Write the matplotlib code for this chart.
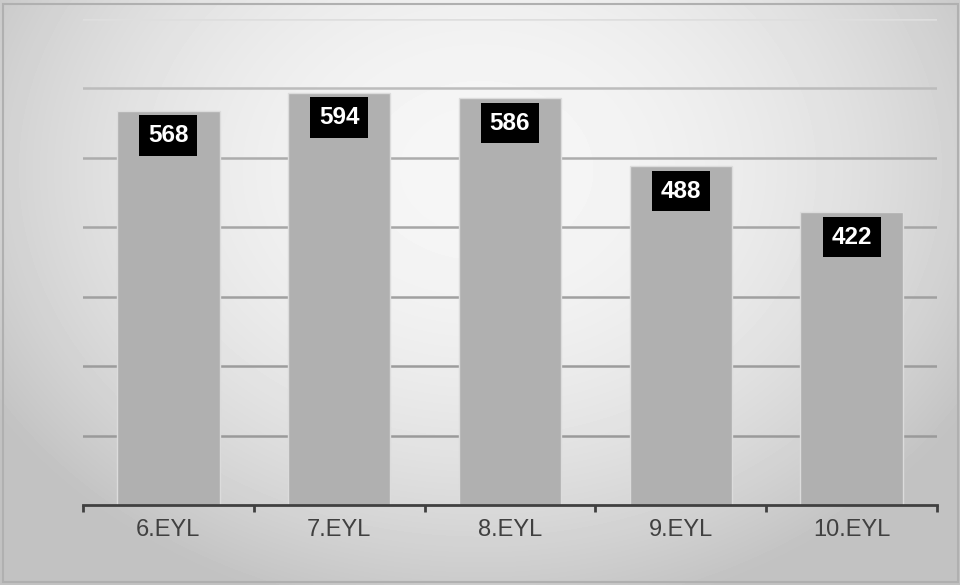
import numpy as np
import matplotlib
matplotlib.use("Agg")
import matplotlib.pyplot as plt
from matplotlib.patches import Rectangle

categories = ["6.EYL", "7.EYL", "8.EYL", "9.EYL", "10.EYL"]
values = [568, 594, 586, 488, 422]
grid_values = [100, 200, 300, 400, 500, 600, 700]

plt.rcParams['font.family'] = ['Liberation Sans', 'DejaVu Sans']

W, H = 960, 585
fig = plt.figure(figsize=(W / 100, H / 100), dpi=100)

# background radial gradient
bg = fig.add_axes([0, 0, 1, 1], zorder=-10)
yy, xx = np.mgrid[0:H, 0:W]
r2 = ((xx - 480) / 580.0) ** 2 + ((yy - 170) / 460.0) ** 2
v = np.clip(0.965 - 0.21 * r2, 0.76, 1.0)
bg.imshow(v, cmap="gray", vmin=0, vmax=1, extent=[0, W, H, 0], aspect="auto", interpolation="bilinear")
bg.add_patch(Rectangle((2.5, 3.5), W - 5, H - 6.5, fill=False, edgecolor="#b0b0b0", linewidth=1.5))
bg.set_xlim(0, W)
bg.set_ylim(H, 0)
bg.axis("off")

ax = fig.add_axes([83 / W, (H - 505) / H, (937 - 83) / W, (505 - 19) / H])
ax.patch.set_alpha(0)
x = np.arange(len(categories))
ax.bar(x, values, width=0.6, color="#b0b0b0", edgecolor="#dcdcdc", linewidth=1.0, zorder=2)
ax.set_xlim(-0.5, len(categories) - 0.5)
ax.set_ylim(0, 700)
ax.set_yticks(grid_values)
ax.yaxis.grid(True, linewidth=1.8, zorder=1)
grid_colors = ["#9a9a9a", "#9c9c9c", "#a0a0a0", "#a6a6a6", "#acacac", "#bcbcbc", "#dedede"]
for gl, c in zip(ax.get_ygridlines(), grid_colors):
    gl.set_color(c)
ax.set_axisbelow(True)
ax.tick_params(axis="y", left=False, labelleft=False)
for s in ["top", "right", "left"]:
    ax.spines[s].set_visible(False)
ax.spines["bottom"].set_color("#404040")
ax.spines["bottom"].set_linewidth(2.0)
ax.spines["bottom"].set_zorder(3)

ax.set_xticks(x)
ax.set_xticklabels(categories, fontsize=17, color="#404040")
ax.tick_params(axis="x", which="major", length=0, pad=10)
ax.set_xticks(np.arange(-0.5, len(categories)), minor=True)
ax.tick_params(axis="x", which="minor", length=5, width=2.0, color="#404040", direction="out")

for xi, val in zip(x, values):
    ax.annotate(str(val), (xi, val), xytext=(0, -25), textcoords="offset pixels",
                ha="center", va="center", fontsize=17.5, fontweight="bold", color="white",
                bbox=dict(boxstyle="square,pad=0.36", facecolor="black", edgecolor="none"),
                zorder=5)

fig.savefig("out.png", dpi=100)
